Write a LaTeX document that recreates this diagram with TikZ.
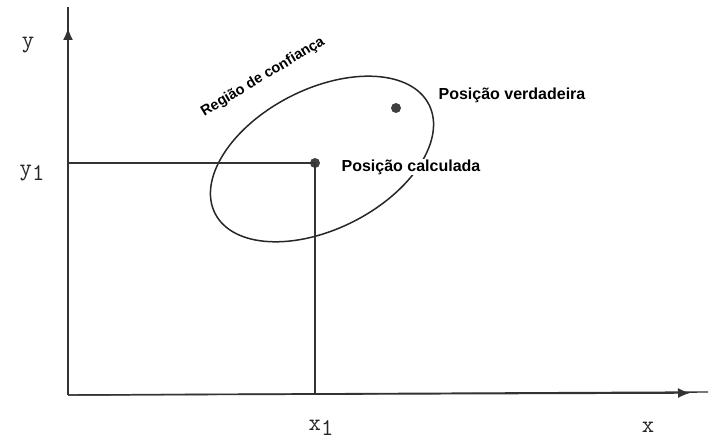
\documentclass[tikz,border=0pt]{standalone}
\usepackage{fontspec}
\setmainfont{Liberation Sans}
\usetikzlibrary{arrows.meta, positioning}
\tikzset{
  axis/.style={-{Latex[length=12pt,width=10pt]}, line width=1.4pt, draw=black!80, fill=black!80},
  axisline/.style={line width=1.4pt, draw=black!80},
  guide/.style={line width=1.3pt, draw=black!80},
  region/.style={line width=1.5pt, draw=black!85},
  dot/.style={circle, fill=black!75, inner sep=0pt, minimum size=10pt},
  tag/.style={font=\bfseries\fontsize{16}{18}\selectfont, fill=white, inner sep=1pt},
  axislabel/.style={font=\ttfamily\fontsize{24}{26}\selectfont, text=black!85, inner sep=0pt},
}
\newcommand{\lowone}{\raisebox{-5pt}{1}}

\begin{document}
\begin{tikzpicture}[x=1pt, y=1pt]
  \useasboundingbox (0,0) rectangle (713,442);

  % axes, the lines run on past the arrow tips
  \coordinate (origin) at (68,47);
  \coordinate (ytip) at (68,414);
  \coordinate (yend) at (68,435);
  \coordinate (xtip) at (690,49);
  \coordinate (xend) at (708,50);
  \draw[axisline] (origin) -- (yend);
  \draw[axisline] (origin) -- (xend);
  \draw[axis] (origin) -- (ytip);
  \draw[axis] (origin) -- (xtip);

  % confidence region
  \draw[region] (322,283) ellipse [x radius=120, y radius=70, rotate=27];

  % points
  \node[dot] (calc) at (315,279) {};
  \node[dot] (true) at (396,334) {};
  \coordinate (ymark) at (68,279);
  \coordinate (xmark) at (315,47);
  \draw[guide] (ymark) -- (calc.center) -- (xmark);

  % labels
  \node[tag] (calclabel) at (411,275) {Posição calculada};
  \node[tag] (truelabel) at (512,347) {Posição verdadeira};
  \node[tag, fill=none, font=\bfseries\fontsize{14.5}{16}\selectfont, rotate=31]
    (regionlabel) at (263,365) {Região de confiança};

  \node[axislabel] (ylabel) at (28,397) {y};
  \node[axislabel] (y1label) at (32,269) {y\lowone};
  \node[axislabel] (x1label) at (321,14) {x\lowone};
  \node[axislabel] (xlabel) at (648,15) {x};
\end{tikzpicture}
\end{document}
